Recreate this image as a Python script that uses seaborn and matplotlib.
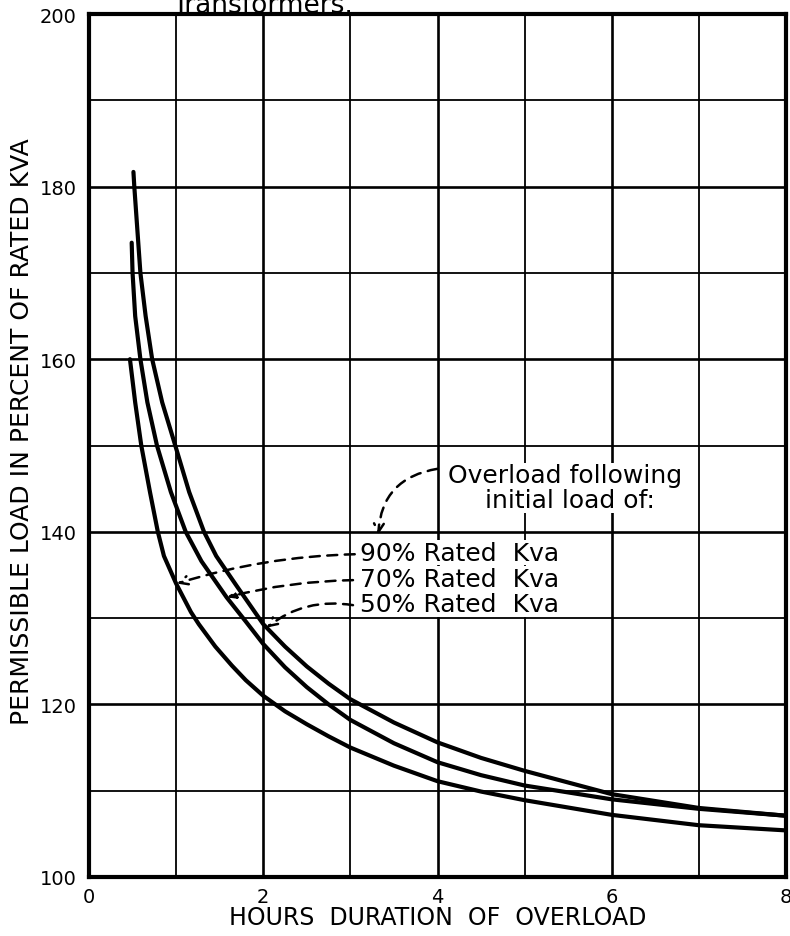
import matplotlib
matplotlib.use("Agg")
import matplotlib.pyplot as plt
import seaborn as sns
import pandas as pd
from matplotlib.ticker import MultipleLocator

# ---- data ----
load_labels = ["50%", "70%", "90%"]

x_50 = [0.51, 0.52, 0.59, 0.65, 0.725, 0.84, 0.99, 1.15, 1.32, 1.46, 1.69, 2.0, 2.25, 2.5, 2.75, 3.0, 3.5, 4.0, 4.5, 5.0, 6.0, 7.0, 8.0]
y_50 = [181.7, 180.0, 170.0, 165.0, 160.0, 155.0, 150.0, 144.6, 140.0, 137.2, 133.8, 129.3, 126.7, 124.4, 122.4, 120.6, 117.9, 115.6, 113.8, 112.3, 109.6, 108.0, 107.1]

x_70 = [0.49, 0.50, 0.53, 0.59, 0.67, 0.78, 0.94, 1.11, 1.29, 1.58, 1.8, 2.0, 2.25, 2.5, 2.75, 3.0, 3.5, 4.0, 4.5, 5.0, 6.0, 7.0, 8.0]
y_70 = [173.5, 170.0, 165.0, 160.0, 155.0, 150.0, 144.6, 140.0, 136.6, 132.4, 129.6, 127.0, 124.3, 122.0, 120.0, 118.2, 115.5, 113.3, 111.8, 110.6, 109.0, 107.9, 107.1]

x_90 = [0.47, 0.53, 0.60, 0.70, 0.79, 0.86, 1.0, 1.17, 1.26, 1.45, 1.64, 1.8, 2.0, 2.25, 2.5, 2.75, 3.0, 3.5, 4.0, 4.5, 5.0, 6.0, 7.0, 8.0]
y_90 = [160.0, 155.0, 150.0, 144.6, 140.0, 137.2, 134.0, 130.7, 129.3, 126.7, 124.5, 122.8, 121.0, 119.2, 117.7, 116.3, 115.0, 112.9, 111.1, 109.9, 108.9, 107.2, 106.0, 105.4]

x_ticks = [0, 2, 4, 6, 8]
y_ticks = [100, 120, 140, 160, 180, 200]

title_text = "Transformers."
x_title = "HOURS  DURATION  OF  OVERLOAD"
y_title = "PERMISSIBLE LOAD IN PERCENT OF RATED KVA"
note_lines = ["Overload following", "initial load of:"]
curve_labels = ["90% Rated  Kva", "70% Rated  Kva", "50% Rated  Kva"]

# ---- build long table ----
frames = []
for lab, xs, ys in zip(load_labels, [x_50, x_70, x_90], [y_50, y_70, y_90]):
    frames.append(pd.DataFrame({"hours": xs, "load": ys, "initial": lab}))
df = pd.concat(frames, ignore_index=True)

sns.set_style("white")
plt.rcParams["font.family"] = ["DejaVu Sans"]
plt.rcParams["text.color"] = "black"
plt.rcParams["xtick.color"] = "black"
plt.rcParams["ytick.color"] = "black"

fig = plt.figure(figsize=(7.9, 9.37), dpi=100)
ax = fig.add_axes([89 / 790, 1 - 878 / 937, (786 - 89) / 790, (878 - 15) / 937])

sns.lineplot(data=df, x="hours", y="load", hue="initial", units="initial",
             estimator=None, palette=["black"] * 3, legend=False,
             linewidth=3.0, ax=ax, zorder=5)
for ln in ax.lines:
    ln.set_solid_joinstyle("round")
    ln.set_solid_capstyle("round")

ax.set_xlim(0, 8)
ax.set_ylim(100, 200)
ax.set_xticks(x_ticks)
ax.set_yticks(y_ticks)
ax.xaxis.set_minor_locator(MultipleLocator(1))
ax.yaxis.set_minor_locator(MultipleLocator(10))
ax.grid(which="major", color="black", linewidth=1.9, zorder=1)
ax.grid(which="minor", color="black", linewidth=1.3, zorder=1)
ax.set_axisbelow(True)
ax.tick_params(which="both", length=0)
ax.tick_params(axis="x", labelsize=14, pad=7, labelcolor="black")
ax.tick_params(axis="y", labelsize=14, pad=9, labelcolor="black")
for s in ax.spines.values():
    s.set_visible(True)
    s.set_color("black")
    s.set_linewidth(3.0)
ax.set_xlabel("")
ax.set_ylabel("")

fig.text(0.5538, 1 - 925 / 937, x_title, ha="center", va="baseline", fontsize=17, color="black")
fig.text(22 / 790, 1 - 432 / 937, y_title, ha="center", va="center",
         rotation=90, fontsize=18, color="black")
fig.text(263 / 790, 1 - 12.7 / 937, title_text, ha="center", va="baseline", fontsize=19, color="black")

# annotation text
box = dict(facecolor="white", edgecolor="none", pad=0.5)
ax.text(5.465, 145.74, note_lines[0], ha="center", va="baseline", fontsize=18,
        zorder=6, bbox=box, color="black")
ax.text(5.52, 142.84, note_lines[1], ha="center", va="baseline", fontsize=18,
        zorder=6, bbox=box, color="black")
for lab, yb in zip(curve_labels, [136.77, 133.74, 130.82]):
    ax.text(3.11, yb, lab, ha="left", va="baseline", fontsize=18, zorder=6,
            bbox=box, color="black")

dash = (0, (4, 3))
def leader(start, tip, rad, style):
    ax.annotate("", xy=tip, xytext=start,
                arrowprops=dict(arrowstyle=style, color="black", lw=1.8,
                                linestyle=dash, shrinkA=0, shrinkB=0,
                                connectionstyle=f"arc3,rad={rad}"),
                zorder=7)

leader((4.0, 147.3), (3.32, 139.7), 0.4, "->,head_length=0.6,head_width=0.35")
leader((3.05, 137.4), (1.01, 134.0), 0.07, "->,head_length=0.6,head_width=0.3")
leader((3.03, 134.4), (1.58, 132.4), 0.06, "-|>,head_length=0.5,head_width=0.2")
leader((3.03, 131.5), (2.04, 128.9), 0.22, "->,head_length=0.6,head_width=0.3")

fig.savefig("out.png", dpi=100)
